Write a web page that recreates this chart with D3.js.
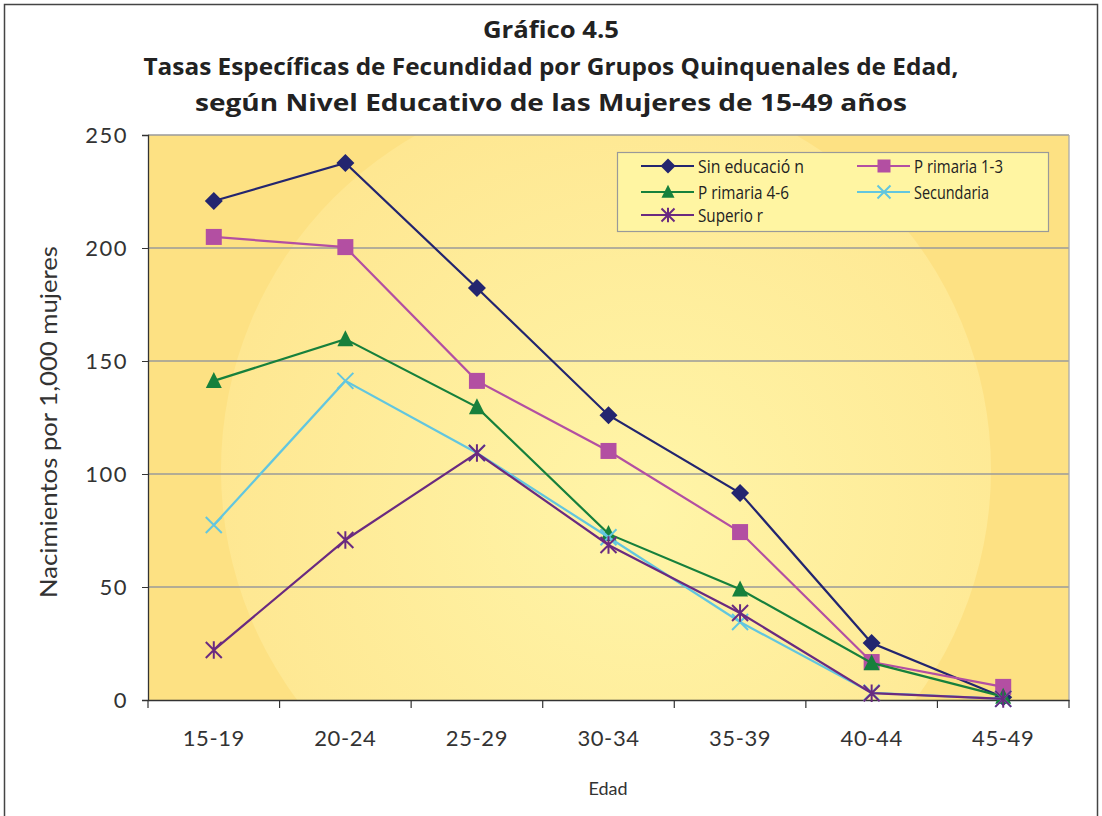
<!DOCTYPE html>
<html>
<head>
<meta charset="utf-8">
<script src="https://cdn.jsdelivr.net/npm/d3@7"></script>
<style>
  body { margin: 0; background: #fff; }
  svg { display: block; }
</style>
</head>
<body>
<script>
// data
const ageGroups = ["15-19", "20-24", "25-29", "30-34", "35-39", "40-44", "45-49"];
const sinEducacion = [220.8, 237.6, 182.3, 126, 91.6, 25.2, 1.2];
const primaria13 = [204.9, 200.4, 141.2, 110.2, 74.3, 16.8, 5.8];
const primaria46 = [141.2, 159.7, 129.6, 73.5, 49, 16.4, 1.5];
const secundaria = [77.4, 141.2, 109.3, 72, 34.5, 3.2, 0.5];
const superior = [22.1, 70.8, 109.3, 68.6, 38.5, 3, 0.5];
const yTicks = [0, 50, 100, 150, 200, 250];

const series = [
  { name: "Sin educación", label: "Sin educació n", values: sinEducacion, color: "#23256f", mark: "diamond", lw: 106 },
  { name: "Primaria 1-3", label: "P rimaria 1-3", values: primaria13, color: "#b34fa2", mark: "square", lw: 89 },
  { name: "Primaria 4-6", label: "P rimaria 4-6", values: primaria46, color: "#17803c", mark: "triangle", lw: 91 },
  { name: "Secundaria", label: "Secundaria", values: secundaria, color: "#62c6df", mark: "x", lw: 75 },
  { name: "Superior", label: "Superio r", values: superior, color: "#6a2a80", mark: "star", lw: 65 }
];

const W = 1102, H = 816;
const m = { left: 148, right: 1069, top: 135, bottom: 700 };

const svg = d3.select("body").append("svg")
  .attr("width", W).attr("height", H)
  .style("font-family", "Lato, 'Open Sans', sans-serif");

// outer frame
svg.append("rect")
  .attr("x", 4.5).attr("y", 4.5)
  .attr("width", 1093).attr("height", 830)
  .attr("fill", "none").attr("stroke", "#444").attr("stroke-width", 1.5);

// title
const titles = [
  "Gráfico 4.5",
  "Tasas Específicas de Fecundidad por Grupos Quinquenales de Edad,",
  "según Nivel Educativo de las Mujeres de 15-49 años"
];
const titleW = [136, 815, 712];
svg.selectAll("text.title").data(titles).enter().append("text")
  .attr("class", "title")
  .attr("x", 551).attr("y", (d, i) => 38 + i * 36.5)
  .attr("text-anchor", "middle")
  .attr("font-size", 23).attr("font-weight", "bold")
  .attr("font-family", "'Open Sans', sans-serif")
  .attr("fill", "#222")
  .attr("textLength", (d, i) => titleW[i])
  .attr("lengthAdjust", "spacingAndGlyphs")
  .text(d => d);

const x = d3.scaleBand().domain(ageGroups).range([m.left, m.right]);
const y = d3.scaleLinear().domain([0, 250]).range([m.bottom, m.top]);
const cx = d => x(d) + x.bandwidth() / 2;

// plot background
const defs = svg.append("defs");
const grad = defs.append("radialGradient").attr("id", "glow")
  .attr("cx", "55%").attr("cy", "55%").attr("r", "60%");
grad.append("stop").attr("offset", "0%").attr("stop-color", "#fff5a8");
grad.append("stop").attr("offset", "100%").attr("stop-color", "#fee690");
defs.append("clipPath").attr("id", "plotClip").append("rect")
  .attr("x", m.left).attr("y", m.top)
  .attr("width", m.right - m.left).attr("height", m.bottom - m.top);

const bg = svg.append("g").attr("clip-path", "url(#plotClip)");
bg.append("rect")
  .attr("x", m.left).attr("y", m.top)
  .attr("width", m.right - m.left).attr("height", m.bottom - m.top)
  .attr("fill", "#fde183");
bg.append("circle")
  .attr("cx", 606).attr("cy", 470).attr("r", 385)
  .attr("fill", "url(#glow)");

// grid lines
svg.append("g").selectAll("line").data(yTicks.filter(d => d > 0)).enter().append("line")
  .attr("x1", m.left).attr("x2", m.right)
  .attr("y1", d => y(d)).attr("y2", d => y(d))
  .attr("stroke", "#9a9a9a").attr("stroke-width", 1.3);
svg.append("line")
  .attr("x1", m.right).attr("x2", m.right).attr("y1", m.top).attr("y2", m.bottom)
  .attr("stroke", "#aaa").attr("stroke-width", 1.3);

// y axis
const yAxis = svg.append("g").attr("transform", `translate(${m.left},0)`)
  .call(d3.axisLeft(y).tickValues(yTicks).tickSize(6).tickPadding(14));
yAxis.select(".domain").attr("stroke", "#333").attr("stroke-width", 1.3);
yAxis.selectAll(".tick line").attr("stroke", "#333");
yAxis.selectAll("text").attr("font-size", 22).attr("fill", "#333")
  .attr("letter-spacing", 1.5)
  .attr("font-family", "Lato, sans-serif");

// x axis
const xAxis = svg.append("g").attr("transform", `translate(0,${m.bottom})`)
  .call(d3.axisBottom(x).tickSize(0).tickPadding(30));
xAxis.select(".domain").attr("stroke", "#333").attr("stroke-width", 1.3);
xAxis.selectAll("text").attr("font-size", 22).attr("fill", "#333")
  .attr("letter-spacing", 0.6)
  .attr("font-family", "Lato, sans-serif");
const bounds = ageGroups.map(d => x(d)).concat([m.right]);
xAxis.selectAll("line.sep").data(bounds).enter().append("line")
  .attr("class", "sep")
  .attr("x1", d => d).attr("x2", d => d).attr("y1", 0).attr("y2", 8)
  .attr("stroke", "#333").attr("stroke-width", 1.2);

// axis titles
svg.append("text")
  .attr("transform", "translate(57,422) rotate(-90)")
  .attr("text-anchor", "middle")
  .attr("font-size", 23).attr("fill", "#333")
  .attr("textLength", 352).attr("lengthAdjust", "spacingAndGlyphs")
  .text("Nacimientos por 1,000 mujeres");
svg.append("text")
  .attr("x", 608).attr("y", 795)
  .attr("text-anchor", "middle")
  .attr("font-size", 18).attr("fill", "#333")
  .text("Edad");

// markers
function drawMark(g, kind, color, s) {
  if (kind === "diamond") {
    g.append("path").attr("d", `M0,${-s}L${s},0L0,${s}L${-s},0Z`).attr("fill", color);
  } else if (kind === "square") {
    g.append("rect").attr("x", -s).attr("y", -s)
      .attr("width", s * 2).attr("height", s * 2).attr("fill", color);
  } else if (kind === "triangle") {
    g.append("path").attr("d", `M0,${-s * 1.1}L${s},${s * 0.9}L${-s},${s * 0.9}Z`).attr("fill", color);
  } else if (kind === "x") {
    g.append("path").attr("d", `M${-s},${-s}L${s},${s}M${-s},${s}L${s},${-s}`)
      .attr("stroke", color).attr("stroke-width", 2);
  } else {
    g.append("path")
      .attr("d", `M${-s},${-s}L${s},${s}M${-s},${s}L${s},${-s}M0,${-s * 1.1}L0,${s * 1.1}`)
      .attr("stroke", color).attr("stroke-width", 2);
  }
}

const line = d3.line().x(d => cx(d.k)).y(d => y(d.v));
series.forEach(s => {
  const pts = ageGroups.map((k, i) => ({ k: k, v: s.values[i] }));
  svg.append("path").datum(pts)
    .attr("d", line)
    .attr("fill", "none").attr("stroke", s.color).attr("stroke-width", 2.2);
  pts.forEach(p => {
    const g = svg.append("g").attr("transform", `translate(${cx(p.k)},${y(p.v)})`);
    drawMark(g, s.mark, s.color, s.mark === "diamond" ? 9 : 8);
  });
});

// legend
const lg = svg.append("g");
lg.append("rect")
  .attr("x", 617.5).attr("y", 152.5).attr("width", 431).attr("height", 79)
  .attr("fill", "#fff5a2").attr("stroke", "#999").attr("stroke-width", 1.2);
const lgPos = [[641, 166], [857, 166], [641, 192], [857, 192], [641, 215]];
series.forEach((s, i) => {
  const [lx, ly] = lgPos[i];
  lg.append("line").attr("x1", lx).attr("x2", lx + 53).attr("y1", ly).attr("y2", ly)
    .attr("stroke", s.color).attr("stroke-width", 2);
  const g = lg.append("g").attr("transform", `translate(${lx + 27},${ly})`);
  drawMark(g, s.mark, s.color, s.mark === "diamond" ? 7.5 : 6.5);
  lg.append("text").attr("x", lx + 57).attr("y", ly + 6.5)
    .attr("font-size", 18.5).attr("fill", "#222")
    .attr("font-family", "'Open Sans', sans-serif")
    .attr("textLength", s.lw).attr("lengthAdjust", "spacingAndGlyphs")
    .text(s.label);
});
</script>
</body>
</html>
